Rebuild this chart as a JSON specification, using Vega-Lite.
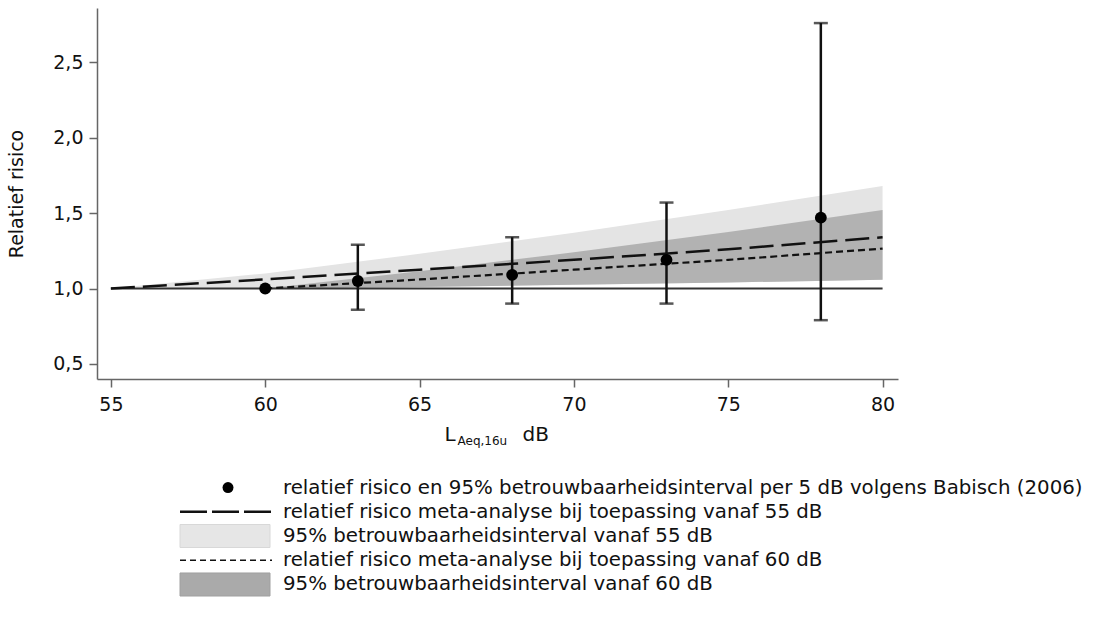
{
  "$schema": "https://vega.github.io/schema/vega-lite/v6.json",
  "padding": {"left": 7, "top": 8, "right": 5, "bottom": 5},
  "config": {"font": "DejaVu Sans", "view": {"stroke": null}},
  "datasets": {
    "bands": [
      {"db": 55, "lo55": 1.0, "hi55": 1.0, "rr55": 1.0, "lo60": null, "hi60": null, "rr60": null},
      {"db": 60, "lo55": 1.0, "hi55": 1.10, "rr55": 1.06, "lo60": 1.0, "hi60": 1.0, "rr60": 1.0},
      {"db": 65, "lo55": 1.01, "hi55": 1.23, "rr55": 1.125, "lo60": 1.01, "hi60": 1.115, "rr60": 1.06},
      {"db": 70, "lo55": 1.025, "hi55": 1.37, "rr55": 1.19, "lo60": 1.025, "hi60": 1.24, "rr60": 1.125},
      {"db": 75, "lo55": 1.04, "hi55": 1.52, "rr55": 1.26, "lo60": 1.04, "hi60": 1.375, "rr60": 1.19},
      {"db": 80, "lo55": 1.058, "hi55": 1.68, "rr55": 1.34, "lo60": 1.058, "hi60": 1.52, "rr60": 1.265}
    ],
    "points": [
      {"db": 60, "rr": 1.0, "lo": null, "hi": null},
      {"db": 63, "rr": 1.05, "lo": 0.86, "hi": 1.29},
      {"db": 68, "rr": 1.09, "lo": 0.90, "hi": 1.34},
      {"db": 73, "rr": 1.19, "lo": 0.90, "hi": 1.57},
      {"db": 78, "rr": 1.47, "lo": 0.79, "hi": 2.76}
    ],
    "ref": [{"from": 55, "to": 80, "rr": 1.0}],
    "legend": [
      {"r": 1, "t": "relatief risico en 95% betrouwbaarheidsinterval per 5 dB volgens Babisch (2006)"},
      {"r": 2, "t": "relatief risico meta-analyse bij toepassing vanaf 55 dB"},
      {"r": 3, "t": "95% betrouwbaarheidsinterval vanaf 55 dB"},
      {"r": 4, "t": "relatief risico meta-analyse bij toepassing vanaf 60 dB"},
      {"r": 5, "t": "95% betrouwbaarheidsinterval vanaf 60 dB"}
    ]
  },
  "spacing": 30,
  "vconcat": [
    {
      "width": 801,
      "height": 371,
      "resolve": {"axis": {"x": "independent"}},
      "encoding": {
        "y": {"type": "quantitative",
          "scale": {"domain": [0.40, 2.86], "nice": false, "zero": false},
          "axis": {"values": [0.5, 1.0, 1.5, 2.0, 2.5], "grid": false,
            "labelExpr": "replace(format(datum.value, '.1f'), '.', ',')",
            "domainColor": "#666", "domainWidth": 1.5, "tickColor": "#666", "tickWidth": 1.5, "tickSize": 8,
            "labelFontSize": 19, "labelColor": "#111", "labelPadding": 6,
            "title": "Relatief risico", "titleFontSize": 19, "titleFontWeight": "normal", "titleColor": "#111", "titlePadding": 26}}
      },
      "layer": [
        {
          "data": {"name": "bands"},
          "mark": {"type": "area", "color": "#e4e4e4"},
          "encoding": {
            "x": {"field": "db", "type": "quantitative",
              "scale": {"domain": [54.55, 80.5], "nice": false, "zero": false},
              "axis": {"orient": "bottom", "values": [55, 60, 65, 70, 75, 80], "grid": false,
                "domainColor": "#666", "domainWidth": 1.5, "tickColor": "#666", "tickWidth": 1.5, "tickSize": 8,
                "labelFontSize": 19, "labelColor": "#111", "labelPadding": 8,
                "title": "L", "titleX": 347, "titleY": 61, "titleAlign": "left", "titleAnchor": null, "titleBaseline": "alphabetic",
                "titleFontSize": 20, "titleFontWeight": "normal", "titleColor": "#111"}},
            "y": {"field": "hi55"},
            "y2": {"field": "lo55"}
          }
        },
        {
          "data": {"name": "bands"},
          "mark": {"type": "area", "color": "#b2b2b2"},
          "encoding": {
            "x": {"field": "db", "type": "quantitative",
              "axis": {"orient": "bottom", "domain": false, "ticks": false, "labels": false, "grid": false,
                "title": "Aeq,16u", "titleX": 360, "titleY": 65, "titleAlign": "left", "titleAnchor": null, "titleBaseline": "alphabetic",
                "titleFontSize": 12, "titleFontWeight": "normal", "titleColor": "#111"}},
            "y": {"field": "hi60"},
            "y2": {"field": "lo60"}
          }
        },
        {
          "data": {"name": "ref"},
          "mark": {"type": "rule", "color": "#333", "strokeWidth": 2},
          "encoding": {
            "x": {"field": "from", "type": "quantitative",
              "axis": {"orient": "bottom", "domain": false, "ticks": false, "labels": false, "grid": false,
                "title": "dB", "titleX": 425, "titleY": 61, "titleAlign": "left", "titleAnchor": null, "titleBaseline": "alphabetic",
                "titleFontSize": 20, "titleFontWeight": "normal", "titleColor": "#111"}},
            "x2": {"field": "to"},
            "y": {"field": "rr"}
          }
        },
        {
          "data": {"name": "bands"},
          "mark": {"type": "line", "color": "#111", "strokeWidth": 2.5, "strokeDash": [24, 8]},
          "encoding": {
            "x": {"field": "db", "type": "quantitative", "axis": null},
            "y": {"field": "rr55"}
          }
        },
        {
          "data": {"name": "bands"},
          "mark": {"type": "line", "color": "#111", "strokeWidth": 2.2, "strokeDash": [7, 4]},
          "encoding": {
            "x": {"field": "db", "type": "quantitative", "axis": null},
            "y": {"field": "rr60"}
          }
        },
        {
          "data": {"name": "points"},
          "mark": {"type": "rule", "color": "#111", "strokeWidth": 2.5},
          "encoding": {
            "x": {"field": "db", "type": "quantitative", "axis": null},
            "y": {"field": "lo"},
            "y2": {"field": "hi"}
          }
        },
        {
          "data": {"name": "points"},
          "mark": {"type": "tick", "color": "#111", "orient": "horizontal", "size": 14, "thickness": 2.5},
          "encoding": {
            "x": {"field": "db", "type": "quantitative", "axis": null},
            "y": {"field": "lo"}
          }
        },
        {
          "data": {"name": "points"},
          "mark": {"type": "tick", "color": "#111", "orient": "horizontal", "size": 14, "thickness": 2.5},
          "encoding": {
            "x": {"field": "db", "type": "quantitative", "axis": null},
            "y": {"field": "hi"}
          }
        },
        {
          "data": {"name": "points"},
          "mark": {"type": "circle", "color": "#000", "size": 140, "opacity": 1},
          "encoding": {
            "x": {"field": "db", "type": "quantitative", "axis": null},
            "y": {"field": "rr"}
          }
        }
      ]
    },
    {
      "width": 801,
      "height": 120,
      "data": {"name": "legend"},
      "encoding": {
        "y": {"field": "r", "type": "ordinal", "axis": null, "scale": {"paddingInner": 0.05, "paddingOuter": 0}}
      },
      "layer": [
        {
          "transform": [{"filter": "datum.r == 1"}],
          "mark": {"type": "circle", "color": "#000", "size": 120, "opacity": 1},
          "encoding": {"x": {"datum": 131, "type": "quantitative", "scale": {"domain": [0, 801], "nice": false, "zero": false}, "axis": null}}
        },
        {
          "transform": [{"filter": "datum.r == 2"}],
          "mark": {"type": "rule", "color": "#111", "strokeWidth": 2.5, "strokeDash": [27, 5]},
          "encoding": {"x": {"datum": 83, "type": "quantitative", "axis": null}, "x2": {"datum": 175}}
        },
        {
          "transform": [{"filter": "datum.r == 3"}],
          "mark": {"type": "bar", "color": "#e6e6e6", "stroke": "#d8d8d8", "strokeWidth": 1},
          "encoding": {"x": {"datum": 83, "type": "quantitative", "axis": null}, "x2": {"datum": 173}}
        },
        {
          "transform": [{"filter": "datum.r == 4"}],
          "mark": {"type": "rule", "color": "#111", "strokeWidth": 1.5, "strokeDash": [6, 4]},
          "encoding": {"x": {"datum": 83, "type": "quantitative", "axis": null}, "x2": {"datum": 175}}
        },
        {
          "transform": [{"filter": "datum.r == 5"}],
          "mark": {"type": "bar", "color": "#aaaaaa", "stroke": "#a0a0a0", "strokeWidth": 1},
          "encoding": {"x": {"datum": 83, "type": "quantitative", "axis": null}, "x2": {"datum": 173}}
        },
        {
          "mark": {"type": "text", "align": "left", "baseline": "middle", "fontSize": 19.8, "color": "#111"},
          "encoding": {"x": {"datum": 186, "type": "quantitative", "axis": null}, "text": {"field": "t"}}
        }
      ]
    }
  ]
}
